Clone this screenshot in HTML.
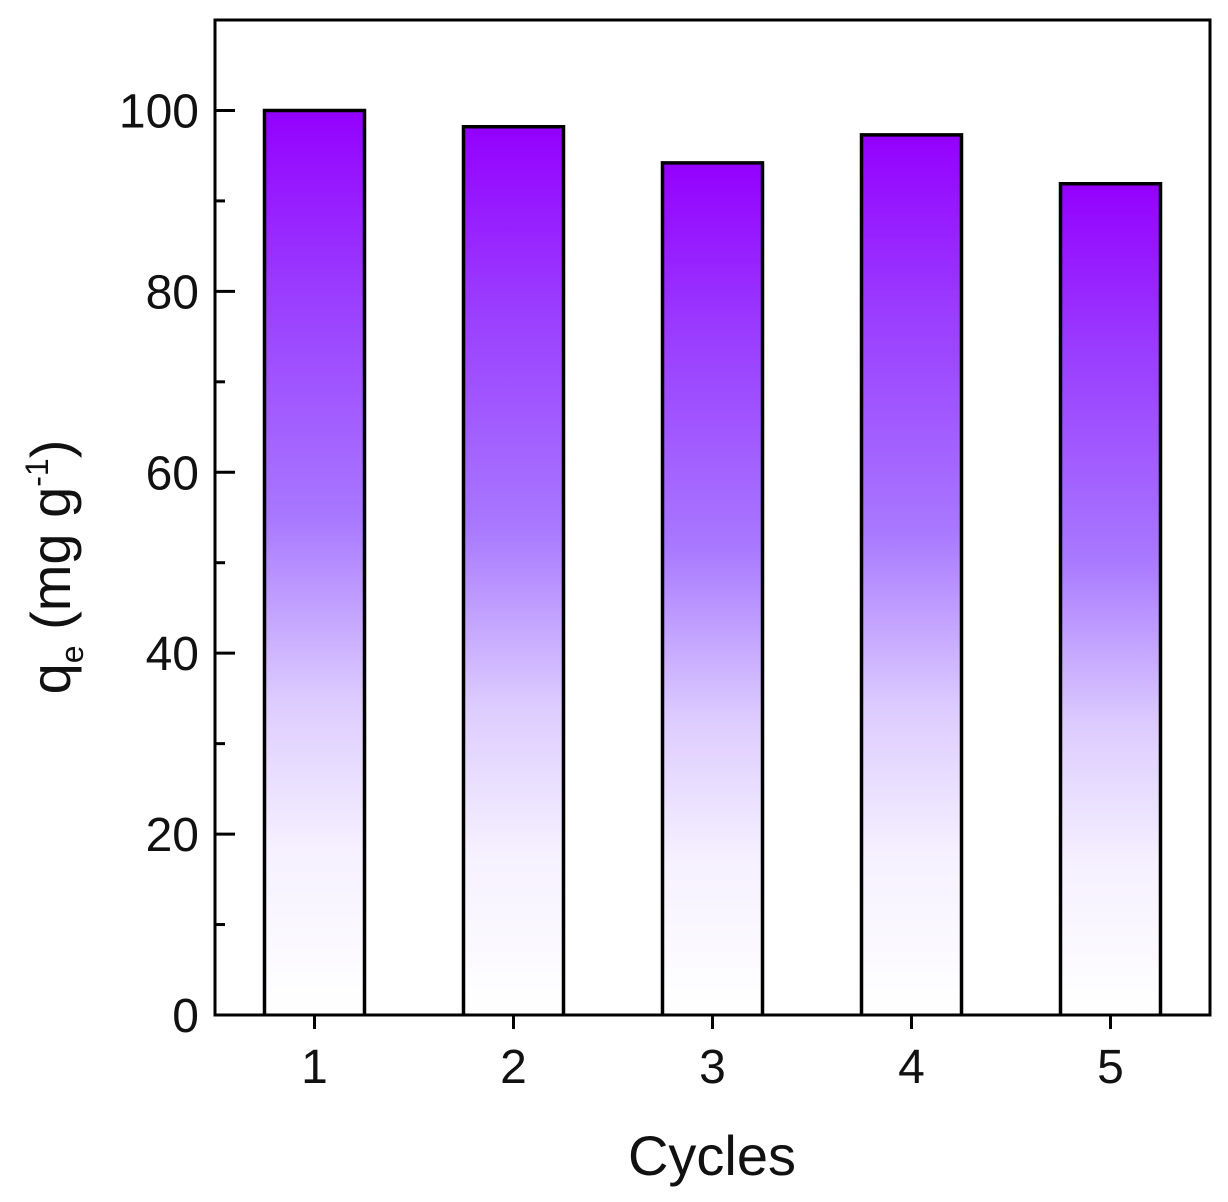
<!DOCTYPE html>
<html><head><meta charset="utf-8"><style>
html,body{margin:0;padding:0;background:#fff;width:1228px;height:1202px;overflow:hidden}
text{font-family:"Liberation Sans",Arial,sans-serif;fill:#111}
</style></head><body>
<svg id="chart" width="1228" height="1202" xmlns="http://www.w3.org/2000/svg">
<defs><linearGradient id="g" x1="0" y1="0" x2="0" y2="1">
<stop offset="0" stop-color="#9400ff"/><stop offset="0.2" stop-color="#9a3cff"/><stop offset="0.45" stop-color="#a878ff"/><stop offset="0.65" stop-color="#dccbff"/><stop offset="0.82" stop-color="#f6f1ff"/><stop offset="1" stop-color="#ffffff"/></linearGradient></defs>
<g id="bars"></g><g id="axes"></g>
<text x="712" y="1175" font-size="56" text-anchor="middle">Cycles</text>
<text transform="translate(70,567) rotate(-90)" font-size="56" text-anchor="middle">q<tspan font-size="32" dy="13">e</tspan><tspan dy="-13"> (mg g</tspan><tspan font-size="32" dy="-22">-1</tspan><tspan dy="22">)</tspan></text>
</svg>
<script>
const categories=["1","2","3","4","5"];
const values=[100,98.2,94.2,97.3,91.9];
const yTicks=[0,20,40,60,80,100];
const L=215,R=1210,T=20,B=1015;
const x=v=>L+(v-0.5)/5*(R-L);
const y=v=>B-v/110*(B-T);
const NS="http://www.w3.org/2000/svg";
function mk(tag,a,p){const e=document.createElementNS(NS,tag);for(const k in a)e.setAttribute(k,a[k]);p.appendChild(e);return e;}
const bars=document.getElementById('bars'),axes=document.getElementById('axes');
values.forEach((v,i)=>{const cx=x(i+1),w=100;
const r=mk('path',{d:`M${cx-w/2},${B} V${y(v)} H${cx+w/2} V${B}`,fill:'url(#g)',stroke:'#000','stroke-width':3.5},bars);

});
const fr=mk('rect',{x:L,y:T,width:R-L,height:B-T,fill:'none',stroke:'#000','stroke-width':3},axes);


for(let v=0;v<=110;v+=10){const major=v%20===0;mk('line',{x1:L,x2:L+(major?20:10),y1:y(v),y2:y(v),stroke:'#000','stroke-width':3},axes);}
yTicks.forEach(v=>{const t=mk('text',{x:L-16,y:y(v)+17,'font-size':48,'text-anchor':'end'},axes);t.textContent=v;

});
categories.forEach((c,i)=>{mk('line',{x1:x(i+1),x2:x(i+1),y1:B,y2:B+14,stroke:'#000','stroke-width':3},axes);
const t=mk('text',{x:x(i+1),y:B+68,'font-size':48,'text-anchor':'middle'},axes);t.textContent=c;

});
</script>
</body></html>
